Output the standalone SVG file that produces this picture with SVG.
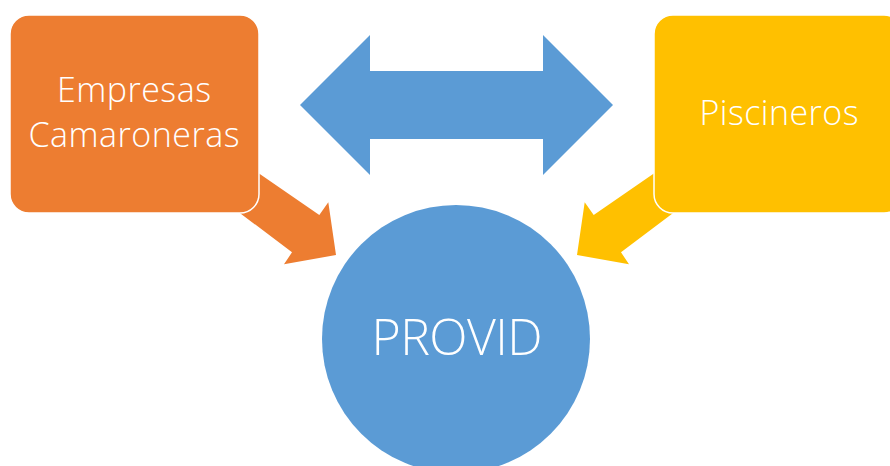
<svg xmlns="http://www.w3.org/2000/svg" width="890" height="466" viewBox="0 0 890 466">
  <style>
    .lbl { font-family: "Open Sans", "Liberation Sans", sans-serif; font-weight: 300; fill: #FFFFFF; text-anchor: middle; }
    .box { stroke: #FFFFFF; stroke-width: 1.5; }
  </style>
  <rect width="890" height="466" fill="#FFFFFF"/>
  <g id="connectors">
    <polygon id="arrow-both" fill="#5B9BD5" points="300,105 370,35 370,71 543,71 543,35 613,105 543,175 543,139 370,139 370,175"/>
    <polygon id="arrow-empresas" fill="#ED7D31" points="236,157.6 319.3,215 328.3,202.3 336,255 284,264.3 292,252.3 218.6,196.9"/>
    <polygon id="arrow-piscineros" fill="#FFC000" points="677,157.6 593.7,215 584.7,202.3 577,255 629,264.3 621,252.3 694.4,196.9"/>
  </g>
  <g id="node-empresas">
    <rect class="box" x="10" y="15" width="249" height="198" rx="19" ry="19" fill="#ED7D31"/>
    <text class="lbl" x="134" y="102" font-size="34" textLength="154">Empresas</text>
    <text class="lbl" x="134" y="147" font-size="34" textLength="211">Camaroneras</text>
  </g>
  <g id="node-piscineros">
    <rect class="box" x="654" y="15" width="249" height="198" rx="19" ry="19" fill="#FFC000"/>
    <text class="lbl" x="779" y="125" font-size="34" textLength="159">Piscineros</text>
  </g>
  <g id="node-provid">
    <circle cx="456" cy="339" r="134" fill="#5B9BD5"/>
    <text class="lbl" x="457" y="355" font-size="50" textLength="171">PROVID</text>
  </g>
</svg>
